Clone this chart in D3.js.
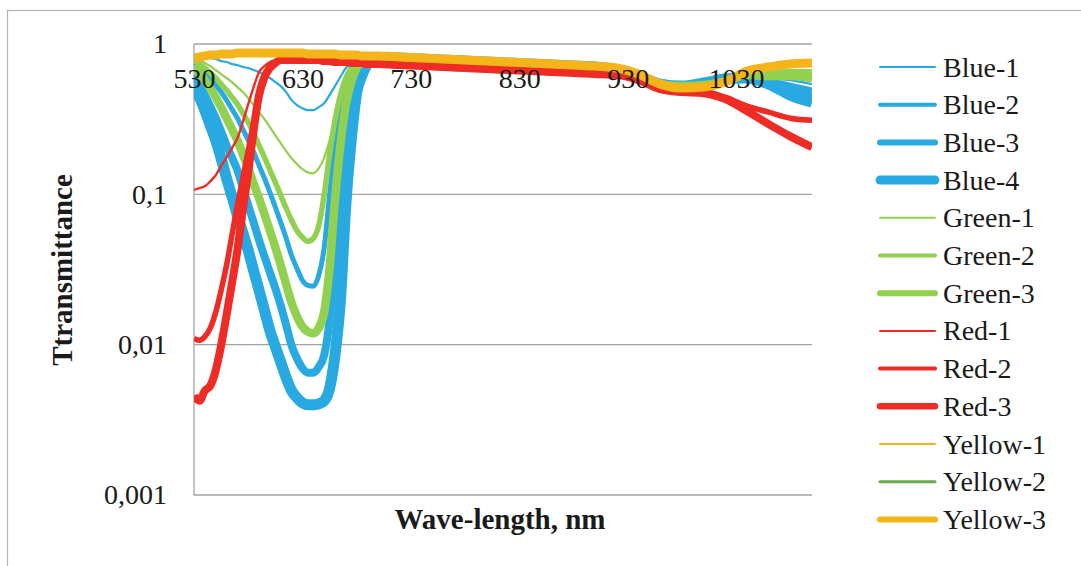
<!DOCTYPE html>
<html><head><meta charset="utf-8">
<script src="https://cdn.jsdelivr.net/npm/d3@7/dist/d3.min.js"></script>
<style>body{margin:0;background:#fff}svg{display:block}</style>
</head><body><svg id="c" width="1081" height="566"></svg>
<script>
// ---- data ----
const wavelengths = [530,535,540,545,550,555,560,565,570,575,580,585,590,595,600,605,610,615,620,625,630,635,640,645,650,655,660,665,670,675,680,685,690,695,700,720,740,760,780,800,820,840,860,880,900,920,940,960,980,1000,1020,1040,1060,1080,1100];

const blue1 = [0.832,0.832,0.819,0.807,0.794,0.770,0.759,0.736,0.724,0.703,0.692,0.671,0.651,0.621,0.594,0.558,0.525,0.479,0.423,0.392,0.374,0.363,0.363,0.380,0.404,0.457,0.525,0.603,0.692,0.747,0.782,0.807,0.819,0.819,0.819,
  0.807,0.794,0.782,0.770,0.759,0.747,0.736,0.724,0.713,0.703,0.671,0.612,0.541,0.525,0.558,0.594,0.621,0.594,0.575,0.541];
const blue2 = [0.759,0.703,0.651,0.594,0.533,0.479,0.423,0.369,0.321,0.271,0.229,0.191,0.156,0.128,0.103,0.0821,0.0651,0.0510,0.0392,0.0321,0.0268,0.0248,0.0245,0.0288,0.0437,0.0985,0.212,0.374,0.533,0.651,0.736,0.782,0.807,0.819,0.819,
  0.807,0.794,0.782,0.770,0.759,0.747,0.736,0.724,0.713,0.703,0.671,0.612,0.541,0.525,0.558,0.594,0.612,0.575,0.533,0.494];
const blue3 = [0.621,0.533,0.457,0.386,0.321,0.263,0.212,0.176,0.145,0.111,0.0845,0.0651,0.0495,0.0386,0.0302,0.0237,0.0182,0.0135,0.00987,0.00810,0.00698,0.00651,0.00651,0.00710,0.00848,0.0145,0.0392,0.0985,0.247,0.423,0.594,0.703,0.770,0.794,0.807,
  0.807,0.794,0.782,0.770,0.759,0.747,0.736,0.724,0.713,0.703,0.671,0.612,0.541,0.525,0.550,0.585,0.603,0.558,0.494,0.450];
const blue4 = [0.533,0.443,0.363,0.288,0.229,0.174,0.128,0.0973,0.0726,0.0556,0.0423,0.0311,0.0230,0.0169,0.0124,0.00973,0.00765,0.00603,0.00494,0.00443,0.00410,0.00398,0.00398,0.00404,0.00423,0.00509,0.00848,0.0196,0.0845,0.229,0.471,0.621,0.736,0.782,0.807,
  0.807,0.794,0.782,0.770,0.759,0.747,0.736,0.724,0.713,0.703,0.671,0.612,0.541,0.525,0.550,0.585,0.594,0.541,0.457,0.410];
const green1 = [0.807,0.782,0.747,0.713,0.671,0.631,0.594,0.558,0.517,0.479,0.437,0.392,0.352,0.316,0.280,0.247,0.219,0.194,0.174,0.159,0.147,0.140,0.138,0.149,0.174,0.229,0.302,0.404,0.533,0.651,0.747,0.782,0.807,0.819,0.819,
  0.807,0.794,0.782,0.770,0.759,0.747,0.736,0.724,0.713,0.703,0.671,0.612,0.541,0.525,0.541,0.575,0.641,0.651,0.671,0.671];
const green2 = [0.782,0.736,0.692,0.641,0.594,0.541,0.494,0.443,0.398,0.347,0.302,0.255,0.212,0.176,0.145,0.120,0.0985,0.0808,0.0672,0.0573,0.0518,0.0487,0.0510,0.0617,0.0985,0.182,0.311,0.457,0.594,0.692,0.759,0.794,0.807,0.819,0.819,
  0.807,0.794,0.782,0.770,0.759,0.747,0.736,0.724,0.713,0.703,0.671,0.612,0.541,0.525,0.541,0.575,0.631,0.631,0.641,0.631];
const green3 = [0.713,0.641,0.575,0.509,0.443,0.380,0.321,0.271,0.229,0.185,0.149,0.118,0.0940,0.0737,0.0573,0.0445,0.0337,0.0252,0.0190,0.0154,0.0132,0.0122,0.0119,0.0129,0.0164,0.0321,0.0912,0.212,0.392,0.558,0.692,0.759,0.794,0.807,0.819,
  0.807,0.794,0.782,0.770,0.759,0.747,0.736,0.724,0.713,0.703,0.671,0.612,0.541,0.525,0.533,0.567,0.621,0.612,0.612,0.594];
const red1 = [0.107,0.110,0.113,0.122,0.134,0.154,0.176,0.203,0.236,0.302,0.398,0.517,0.651,0.713,0.759,0.782,0.807,0.807,0.807,0.807,0.794,0.794,0.782,0.782,0.770,0.770,0.759,0.759,0.759,0.747,0.747,0.747,0.736,0.736,0.736,
  0.724,0.713,0.703,0.692,0.681,0.671,0.661,0.651,0.641,0.631,0.621,0.575,0.501,0.479,0.479,0.443,0.392,0.358,0.326,0.316];
const red2 = [0.0110,0.0107,0.0113,0.0129,0.0164,0.0230,0.0337,0.0534,0.0845,0.128,0.196,0.302,0.437,0.575,0.692,0.747,0.782,0.782,0.782,0.782,0.782,0.782,0.782,0.782,0.770,0.770,0.759,0.759,0.759,0.747,0.747,0.747,0.736,0.736,0.736,
  0.724,0.713,0.703,0.692,0.681,0.671,0.661,0.651,0.641,0.631,0.621,0.575,0.501,0.479,0.479,0.443,0.386,0.352,0.321,0.311];
const red3 = [0.00457,0.00423,0.00494,0.00533,0.00672,0.00987,0.0157,0.0256,0.0423,0.0784,0.140,0.267,0.457,0.603,0.692,0.747,0.782,0.782,0.782,0.782,0.782,0.782,0.782,0.782,0.770,0.770,0.759,0.759,0.759,0.747,0.747,0.747,0.736,0.736,0.736,
  0.724,0.713,0.703,0.692,0.681,0.671,0.661,0.651,0.641,0.631,0.621,0.575,0.501,0.479,0.471,0.430,0.358,0.293,0.243,0.206];
const yellow1 = [0.794,0.807,0.819,0.832,0.832,0.845,0.845,0.845,0.858,0.858,0.858,0.858,0.858,0.858,0.858,0.858,0.858,0.858,0.858,0.858,0.858,0.845,0.845,0.845,0.845,0.845,0.845,0.832,0.832,0.832,0.832,0.819,0.819,0.819,0.819,
  0.807,0.794,0.782,0.770,0.759,0.747,0.736,0.724,0.713,0.703,0.681,0.621,0.533,0.501,0.509,0.550,0.651,0.692,0.724,0.736];
const yellow2 = [0.782,0.794,0.807,0.819,0.819,0.832,0.832,0.832,0.845,0.845,0.845,0.845,0.845,0.845,0.845,0.845,0.845,0.845,0.845,0.845,0.845,0.832,0.832,0.832,0.832,0.832,0.832,0.819,0.819,0.819,0.819,0.807,0.807,0.807,0.807,
  0.794,0.782,0.770,0.759,0.747,0.736,0.724,0.713,0.703,0.692,0.671,0.612,0.525,0.494,0.501,0.541,0.641,0.681,0.713,0.724];
const yellow3 = [0.807,0.819,0.832,0.845,0.845,0.858,0.858,0.858,0.871,0.871,0.871,0.871,0.871,0.871,0.871,0.871,0.871,0.871,0.871,0.871,0.871,0.858,0.858,0.858,0.858,0.858,0.858,0.845,0.845,0.845,0.845,0.832,0.832,0.832,0.832,
  0.819,0.807,0.794,0.782,0.770,0.759,0.747,0.736,0.724,0.713,0.692,0.631,0.541,0.509,0.517,0.558,0.661,0.703,0.736,0.747];

const seriesNames = ["Blue-1","Blue-2","Blue-3","Blue-4","Green-1","Green-2","Green-3","Red-1","Red-2","Red-3","Yellow-1","Yellow-2","Yellow-3"];
const seriesValues = [blue1,blue2,blue3,blue4,green1,green2,green3,red1,red2,red3,yellow1,yellow2,yellow3];
const xTickValues = [530,630,730,830,930,1030];
const yTickValues = [1,0.1,0.01,0.001];
const yTickLabels = ["1","0,1","0,01","0,001"];
const xTitle = "Wave-length, nm";
const yTitle = "Ttransmittance";

// ---- styles ----
const BLUE="#29a9e1", GREEN="#92d050", RED="#ee2b24", YEL="#f4b41a", DGREEN="#6aa84f";
const seriesColors = [BLUE,BLUE,BLUE,BLUE,GREEN,GREEN,GREEN,RED,RED,RED,YEL,DGREEN,YEL];
const plotWidths = [2.2,5,8,11,2.2,5.5,8.5,2.4,5.5,8,2,3,9];
const legendWidths = [2,4,6,9,2,4,6,2,4,6.5,2,3,6];

const svg = d3.select("#c");
const FONT = "'Liberation Serif','Times New Roman',serif";

// outer chart border (right/bottom fall outside the picture)
svg.append("rect").attr("x",7.5).attr("y",10.5).attr("width",1100).attr("height",600)
  .attr("fill","#fff").attr("stroke","#b4b4b4").attr("stroke-width",1.2);

const L=194, R=812, T=44, B=495;
const x = d3.scaleLinear().domain([530,1100]).range([L,R]);
const y = d3.scaleLog().domain([0.001,1]).range([B,T]);

// gridlines
svg.append("g").selectAll("line").data(yTickValues).join("line")
  .attr("x1",L).attr("x2",R).attr("y1",d=>y(d)).attr("y2",d=>y(d))
  .attr("stroke","#a3a3a3").attr("stroke-width",1.3);
svg.append("line").attr("x1",L).attr("x2",L).attr("y1",T).attr("y2",B)
  .attr("stroke","#a3a3a3").attr("stroke-width",1.3);

// clip
svg.append("clipPath").attr("id","clip").append("rect")
  .attr("x",L).attr("y",T-12).attr("width",R-L).attr("height",B-T+12);

const line = d3.line().x((d,i)=>x(wavelengths[i])).y(d=>y(d)).curve(d3.curveMonotoneX);
const gl = svg.append("g").attr("clip-path","url(#clip)");
seriesValues.forEach((vals,k)=>{
  gl.append("path").attr("d",line(vals)).attr("fill","none")
    .attr("stroke",seriesColors[k]).attr("stroke-width",plotWidths[k])
    .attr("stroke-linejoin","round").attr("stroke-linecap","butt");
});

// x axis (labels hanging below top line)
const xAxis = svg.append("g").attr("transform",`translate(0,${T})`)
  .call(d3.axisBottom(x).tickValues(xTickValues).tickSize(0).tickPadding(24).tickFormat(d3.format("d")));
xAxis.select(".domain").remove();
xAxis.attr("font-family",FONT);
xAxis.selectAll("text").attr("font-family",FONT).attr("font-size",28).attr("fill","#1a1a1a");

// y axis
const yAxis = svg.append("g").attr("transform",`translate(${L},0)`)
  .call(d3.axisLeft(y).tickValues(yTickValues).tickSize(0).tickPadding(27)
    .tickFormat((d,i)=>yTickLabels[i]));
yAxis.select(".domain").remove();
yAxis.attr("font-family",FONT);
yAxis.selectAll("text").attr("font-family",FONT).attr("font-size",28).attr("fill","#1a1a1a");

// titles
svg.append("text").attr("x",500).attr("y",529).attr("text-anchor","middle")
  .attr("font-family",FONT).attr("font-weight","bold").attr("font-size",29).attr("fill","#1a1a1a").text(xTitle);
svg.append("text").attr("transform","translate(72,270) rotate(-90)").attr("text-anchor","middle")
  .attr("font-family",FONT).attr("font-weight","bold").attr("font-size",29).attr("fill","#1a1a1a").text(yTitle);

// legend
const lg = svg.append("g");
seriesNames.forEach((name,i)=>{
  const yy = 67 + i*37.7;
  lg.append("line").attr("x1",880).attr("x2",935).attr("y1",yy).attr("y2",yy)
    .attr("stroke",seriesColors[i]).attr("stroke-width",legendWidths[i]).attr("stroke-linecap","round");
  lg.append("text").attr("x",943).attr("y",yy+9.5).attr("font-family",FONT).attr("font-size",28)
    .attr("fill","#1a1a1a").text(name);
});
</script></body></html>
